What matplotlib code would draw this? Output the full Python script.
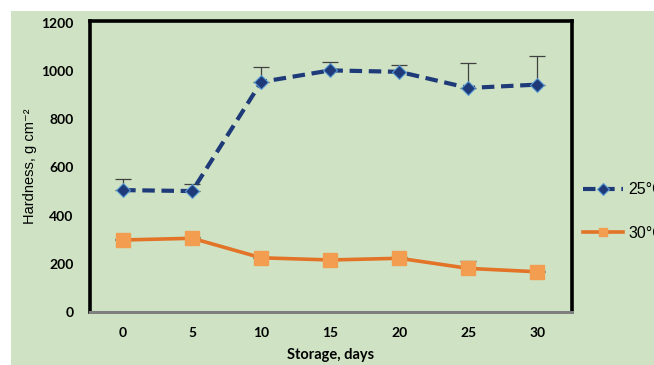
import matplotlib
matplotlib.use("Agg")
import matplotlib.pyplot as plt
from matplotlib.patches import Rectangle

days = [0, 5, 10, 15, 20, 25, 30]
hard_25 = [506, 502, 955, 1003, 997, 930, 944]
err_25 = [45, 30, 60, 35, 30, 103, 117]
hard_30 = [299, 306, 225, 216, 223, 181, 167]
err_30 = [5, 5, 5, 5, 5, 32, 5]
labels = ["25°C", "30°C"]

green = "#cfe3c4"
fig = plt.figure(figsize=(6.54, 3.65), dpi=100)
fig.patch.set_facecolor("white")
fig.patches.append(Rectangle((11/654, 0), 1, 1 - 11/365, transform=fig.transFigure,
                             facecolor=green, edgecolor="none", zorder=-10))

ax = fig.add_axes([90/654, 53/365, 482/654, 291/365])
ax.set_facecolor(green)

ax.errorbar(days, hard_25, yerr=[[0]*len(err_25), err_25], fmt="none",
            ecolor="#404040", elinewidth=0.9, capsize=6, capthick=0.9, zorder=2)
ax.errorbar(days, hard_30, yerr=[[0]*len(err_30), err_30], fmt="none",
            ecolor="#404040", elinewidth=0.9, capsize=6, capthick=0.9, zorder=2)

l1, = ax.plot(days, hard_25, linestyle=(0, (3, 1.6)), color="#1f3a78", linewidth=3,
              marker="D", markersize=7, markerfacecolor="#1f3a78",
              markeredgecolor="#5b9bd5", markeredgewidth=0.8, zorder=3)
l2, = ax.plot(days, hard_30, linestyle="-", color="#e27327", linewidth=2.6,
              marker="s", markersize=10, markerfacecolor="#f29d4f",
              markeredgecolor="#f29d4f", zorder=3)

ax.set_xlim(-2.4, 32.5)
ax.set_ylim(0, 1208)
ax.set_xticks(days)
ax.set_yticks(range(0, 1201, 200))
ax.tick_params(length=0)
ax.tick_params(axis="x", pad=11)
ax.tick_params(axis="y", pad=12)
for t in ax.get_xticklabels() + ax.get_yticklabels():
    t.set_fontfamily("Lato")
    t.set_fontweight("bold")
    t.set_fontsize(10)

for s in ["left", "top", "right"]:
    ax.spines[s].set_color("black")
    ax.spines[s].set_linewidth(2.6)
ax.spines["bottom"].set_color("#7f7f7f")
ax.spines["bottom"].set_linewidth(2.2)

ax.set_xlabel("Storage, days", fontfamily="Lato", fontweight="bold", fontsize=10.5, labelpad=6)
ax.set_ylabel("Hardness, g cm⁻²", fontfamily=["Liberation Sans", "DejaVu Sans"],
              fontsize=10.5, labelpad=3)

leg = ax.legend([l1, l2], labels, loc="center left", bbox_to_anchor=(1.0, 0.345),
                frameon=False, handlelength=2.5, handletextpad=0.35, labelspacing=1.8,
                prop={"family": "Liberation Sans", "size": 11.5}, borderaxespad=0.3)
for h in leg.legend_handles:
    h.set_markersize(6)

fig.savefig("out.png", dpi=100, facecolor="white")
